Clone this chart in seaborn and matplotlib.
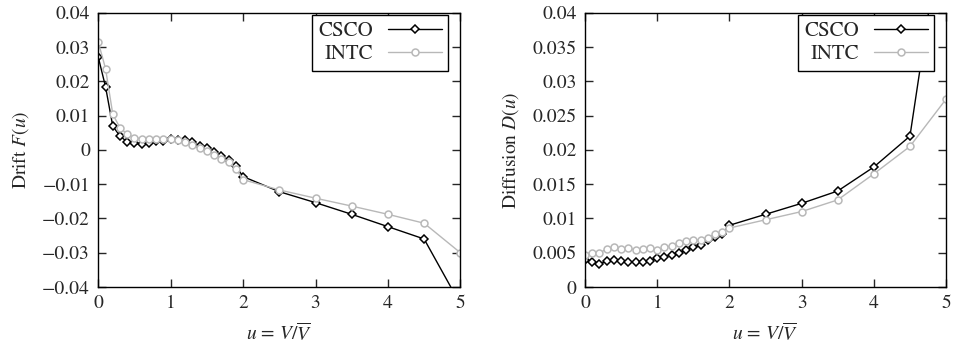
import numpy as np
import pandas as pd
import matplotlib
matplotlib.use("Agg")
import matplotlib.pyplot as plt
import seaborn as sns

# ---- data ----
u = [0.0, 0.1, 0.2, 0.3, 0.4, 0.5, 0.6, 0.7, 0.8, 0.9, 1.0,
     1.1, 1.2, 1.3, 1.4, 1.5, 1.6, 1.7, 1.8, 1.9, 2.0,
     2.5, 3.0, 3.5, 4.0, 4.5, 5.0]

drift_csco = [0.0270, 0.0184, 0.0069, 0.0040, 0.0023, 0.0019, 0.0016, 0.0021, 0.0025, 0.0027, 0.0032,
              0.0030, 0.0028, 0.0022, 0.0012, 0.0006, -0.0006, -0.0018, -0.0030, -0.0048, -0.0078,
              -0.0122, -0.0154, -0.0188, -0.0224, -0.0260, -0.0450]
drift_intc = [0.0314, 0.0237, 0.0104, 0.0064, 0.0046, 0.0035, 0.0033, 0.0032, 0.0032, 0.0033, 0.0032,
              0.0028, 0.0022, 0.0015, 0.0004, -0.0003, -0.0015, -0.0026, -0.0036, -0.0055, -0.0087,
              -0.0117, -0.0141, -0.0164, -0.0188, -0.0214, -0.0300]

diff_csco = [0.0039, 0.0036, 0.0033, 0.0038, 0.0040, 0.0038, 0.0037, 0.0036, 0.0036, 0.0038, 0.0042,
             0.0044, 0.0047, 0.0049, 0.0054, 0.0058, 0.0061, 0.0068, 0.0073, 0.0078, 0.0090,
             0.0106, 0.0122, 0.0140, 0.0175, 0.0220, 0.0570]
diff_intc = [0.0047, 0.0050, 0.0049, 0.0056, 0.0058, 0.0056, 0.0057, 0.0054, 0.0055, 0.0057, 0.0054,
             0.0058, 0.0060, 0.0064, 0.0067, 0.0068, 0.0069, 0.0072, 0.0077, 0.0080, 0.0086,
             0.0098, 0.0110, 0.0127, 0.0165, 0.0205, 0.0274]

series_names = ["CSCO", "INTC"]
x_ticks = [0, 1, 2, 3, 4, 5]
drift_ticks = [0.04, 0.03, 0.02, 0.01, 0.0, -0.01, -0.02, -0.03, -0.04]
drift_tick_labels = ["0.04", "0.03", "0.02", "0.01", "0", "\u22120.01", "\u22120.02", "\u22120.03", "\u22120.04"]
diff_ticks = [0, 0.005, 0.01, 0.015, 0.02, 0.025, 0.03, 0.035, 0.04]
diff_tick_labels = ["0", "0.005", "0.01", "0.015", "0.02", "0.025", "0.03", "0.035", "0.04"]

sns.set_style("ticks")
plt.rcParams["font.family"] = ["STIXGeneral", "DejaVu Serif"]
plt.rcParams["mathtext.fontset"] = "stix"
FS = 14

fig = plt.figure(figsize=(9.59, 3.53), dpi=100)
ax1 = fig.add_axes([0.1025, 0.187, 0.3775, 0.777])
ax2 = fig.add_axes([0.610, 0.187, 0.3765, 0.777])

styles = {"CSCO": dict(color="black", marker="D", markersize=4.2, markerfacecolor="white",
                       markeredgecolor="black", markeredgewidth=1.1, linewidth=1.0),
          "INTC": dict(color="#b8b8b8", marker="o", markersize=5, markerfacecolor="white",
                       markeredgecolor="#b8b8b8", markeredgewidth=1.1, linewidth=1.0)}

def draw(ax, ycsco, yintc):
    df = pd.DataFrame({"u": u * 2, "v": list(ycsco) + list(yintc),
                       "s": ["CSCO"] * len(u) + ["INTC"] * len(u)})
    for name in series_names:
        sub = df[df["s"] == name]
        sns.lineplot(data=sub, x="u", y="v", ax=ax, label=name, sort=False,
                     estimator=None, **styles[name])

draw(ax1, drift_csco, drift_intc)
draw(ax2, diff_csco, diff_intc)

for ax, yt, ytl, ylim, ylab in [(ax1, drift_ticks, drift_tick_labels, (-0.04, 0.04), r"Drift $F(u)$"),
                                (ax2, diff_ticks, diff_tick_labels, (0, 0.04), r"Diffusion $D(u)$")]:
    ax.set_xlim(0, 5)
    ax.set_ylim(*ylim)
    ax.set_xticks(x_ticks)
    ax.set_xticklabels([str(t) for t in x_ticks])
    ax.set_yticks(yt)
    ax.set_yticklabels(ytl)
    ax.tick_params(direction="in", top=True, right=True, length=6, width=1, pad=6, labelsize=FS)
    for sp in ax.spines.values():
        sp.set_visible(True)
        sp.set_linewidth(1.0)
        sp.set_color("black")
    ax.set_xlabel(r"$u\, =\, V/\overline{V}$", fontsize=FS, labelpad=7)
    ax.set_ylabel(ylab, fontsize=FS, labelpad=8)
    leg = ax.legend(loc="upper right", bbox_to_anchor=(0.967, 0.99), markerfirst=False,
                    frameon=True, fancybox=False, edgecolor="black", framealpha=1,
                    handlelength=2.6, borderaxespad=0.0, borderpad=0.3, labelspacing=0.15,
                    handletextpad=0.7, fontsize=FS + 1)
    leg.get_frame().set_linewidth(1.0)

fig.savefig("out.png", dpi=100)
